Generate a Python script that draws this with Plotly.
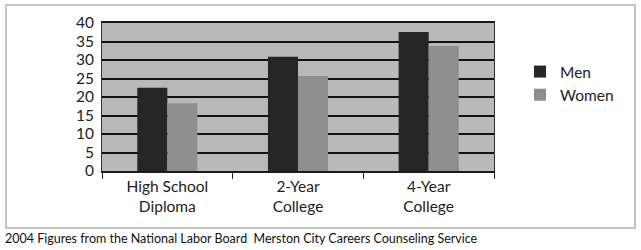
import plotly.graph_objects as go

categories = ["High School<br>Diploma", "2-Year<br>College", "4-Year<br>College"]
men = [22.5, 30.9, 37.6]
women = [18.3, 25.7, 33.8]
series_names = ["Men", "Women"]
y_ticks = [0, 5, 10, 15, 20, 25, 30, 35, 40]
caption = "2004 Figures from the National Labor Board  Merston City Careers Counseling Service"

W, H = 641, 250
L, R, T, B = 102, 147, 23, 79
pw, ph = W - L - R, H - T - B

def px(x):
    return (x - L) / pw

def py(y):
    return (H - B - y) / ph

fig = go.Figure()
fig.add_trace(go.Bar(x=categories, y=men, name=series_names[0],
                     marker=dict(color="#262626", line=dict(width=0))))
fig.add_trace(go.Bar(x=categories, y=women, name=series_names[1],
                     marker=dict(color="#8f8f8f", line=dict(width=0))))

font = "Lato, 'Open Sans', sans-serif"
fig.update_layout(
    width=W, height=H,
    margin=dict(l=L, r=R, t=T, b=B),
    paper_bgcolor="white",
    plot_bgcolor="#b9b9b9",
    barmode="group",
    bargap=0.54,
    bargroupgap=0,
    font=dict(family=font, size=15.5, color="#222"),
    showlegend=True,
    legend=dict(x=px(520), y=py(55), xanchor="left", yanchor="top",
                font=dict(size=15.5, color="#222"), bgcolor="rgba(0,0,0,0)",
                itemwidth=30, tracegroupgap=2),
    xaxis=dict(showgrid=False, ticks="outside", tickson="boundaries",
               ticklen=6, tickcolor="#222", showline=True, linecolor="#1a1a1a",
               linewidth=2, tickfont=dict(size=15.5, color="#222"),
               mirror=True),
    yaxis=dict(range=[0, 40], tickvals=y_ticks, showgrid=True,
               gridcolor="#111", gridwidth=2, zeroline=False,
               showline=True, linecolor="#333", linewidth=1, mirror=True,
               ticks="", tickfont=dict(size=15.5, color="#222"),
               ticklabelstandoff=4),
    shapes=[dict(type="rect", xref="paper", yref="paper",
                 x0=px(6), x1=px(635), y0=py(228), y1=py(5),
                 line=dict(color="#c4c4c4", width=2), layer="below")],
    annotations=[dict(text=caption, xref="paper", yref="paper",
                      x=px(3), y=py(238), xanchor="left", yanchor="middle",
                      showarrow=False, font=dict(size=12.5, color="#111"))],
)

fig.write_html("out.html")
